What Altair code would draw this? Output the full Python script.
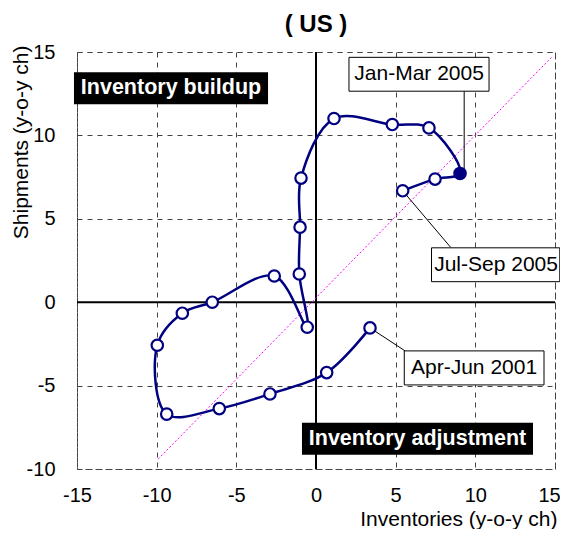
import altair as alt
import pandas as pd

# Inventory cycle path (quarterly), Apr-Jun 2001 .. Jul-Sep 2005
inventories = [3.39, 0.67, -2.89, -6.07, -9.37, -9.96, -8.39, -6.51, -2.62, -0.55,
               -1.05, -1.00, -0.94, 1.13, 4.79, 7.09, 9.04, 7.47, 5.44]
shipments = [-1.54, -4.22, -5.50, -6.38, -6.71, -2.58, -0.66, 0.00, 1.57, -1.50,
             1.69, 4.50, 7.44, 11.01, 10.65, 10.45, 7.72, 7.38, 6.68]
highlight_index = 16  # Jan-Mar 2005

# 45-degree reference line
diag_x = [-9.9, 14.8]
diag_y = [-9.4, 14.7]

# callout labels
callout_text = ["Jan-Mar 2005", "Jul-Sep 2005", "Apr-Jun 2001"]
callout_tx = [6.47, 11.3, 9.92]
callout_ty = [13.66, 2.23, -3.94]
callout_x1 = [2.07, 7.25, 5.54]
callout_x2 = [10.86, 15.3, 14.31]
callout_y1 = [14.68, 3.26, -2.92]
callout_y2 = [12.65, 1.23, -4.96]
leader_x1 = [9.30, 5.44, 3.39]
leader_y1 = [12.65, 6.68, -1.54]
leader_x2 = [9.30, 8.45, 5.59]
leader_y2 = [7.72, 3.29, -2.92]

# quadrant labels
quad_text = ["Inventory buildup", "Inventory adjustment"]
quad_tx = [-9.1, 6.37]
quad_ty = [12.82, -8.19]
quad_x1 = [-15.19, -0.88]
quad_x2 = [-3.01, 13.62]
quad_y1 = [13.78, -7.23]
quad_y2 = [11.87, -9.15]

FONT = "Liberation Sans"
NAVY = "#000080"

xs = alt.Scale(domain=[-15, 15], nice=False, zero=False)
ys = alt.Scale(domain=[-10, 15], nice=False, zero=False)
xaxis = alt.Axis(values=[-15, -10, -5, 0, 5, 10, 15], title="Inventories (y-o-y ch)",
                 ticks=False, tickSize=0, domain=False, labelPadding=32,
                 labelFlush=False, labelExpr="'' + datum.value",
                 labelOffset={"expr": "datum.value == 15 ? -6 : 0"},
                 labelBaseline="alphabetic", titleX=480, titleY=56,
                 titleAlign="right", titleBaseline="alphabetic")
yaxis = alt.Axis(values=[-10, -5, 0, 5, 10, 15], title="Shipments (y-o-y ch)",
                 ticks=False, tickSize=0, domain=False, labelPadding=22,
                 labelFlush=False, labelExpr="'' + datum.value",
                 titleX=-50, titleY=-7, titleAlign="right", titleAngle=270,
                 titleBaseline="alphabetic")

def X(f="x"):
    return alt.X(f + ":Q", scale=xs, axis=xaxis)

def Y(f="y"):
    return alt.Y(f + ":Q", scale=ys, axis=yaxis)

pts = pd.DataFrame({"x": inventories, "y": shipments, "i": list(range(len(inventories)))})
pts["hl"] = ["yes" if i == highlight_index else "no" for i in range(len(inventories))]

zero_v = pd.DataFrame({"x": [0, 0], "y": [-10, 15]})
zero_h = pd.DataFrame({"x": [-15, 15], "y": [0, 0]})
diag = pd.DataFrame({"x": diag_x, "y": diag_y})
callouts = pd.DataFrame({"t": callout_text, "x": callout_tx, "y": callout_ty,
                         "bx": callout_x1, "bx2": callout_x2,
                         "by": callout_y1, "by2": callout_y2})
leaders = pd.DataFrame({"x": leader_x1, "y": leader_y1, "x2": leader_x2, "y2": leader_y2})
quads = pd.DataFrame({"t": quad_text, "x": quad_tx, "y": quad_ty,
                      "bx": quad_x1, "bx2": quad_x2, "by": quad_y1, "by2": quad_y2})

zv = alt.Chart(zero_v).mark_line(color="black", strokeWidth=2).encode(x=X(), y=Y())
zh = alt.Chart(zero_h).mark_line(color="black", strokeWidth=2).encode(x=X(), y=Y())
dg = alt.Chart(diag).mark_line(color="#ff00ff", strokeWidth=1, strokeDash=[2, 2]).encode(x=X(), y=Y())
ld = alt.Chart(leaders).mark_rule(color="black", strokeWidth=1).encode(
    x=X(), y=Y(), x2="x2:Q", y2="y2:Q")
curve = alt.Chart(pts).mark_line(color=NAVY, strokeWidth=2.5, interpolate="catmull-rom").encode(
    x=X(), y=Y(), order="i:Q")
dots = alt.Chart(pts).mark_point(shape="circle", size=130, strokeWidth=2.2, stroke=NAVY, opacity=1, filled=True).encode(
    x=X(), y=Y(),
    fill=alt.Fill("hl:N", scale=alt.Scale(domain=["no", "yes"], range=["white", NAVY]), legend=None))
cbox = alt.Chart(callouts).mark_rect(fill="white", stroke="black", strokeWidth=1).encode(
    x=X("bx"), x2="bx2:Q", y=Y("by"), y2="by2:Q")
ctxt = alt.Chart(callouts).mark_text(font=FONT, fontSize=21, color="black").encode(
    x=X(), y=Y(), text="t:N")
qbox = alt.Chart(quads).mark_rect(fill="black").encode(
    x=X("bx"), x2="bx2:Q", y=Y("by"), y2="by2:Q")
qtxt = alt.Chart(quads).mark_text(font=FONT, fontSize=21.5, fontWeight="bold", color="white").encode(
    x=X(), y=Y(), text="t:N")

chart = alt.layer(zv, zh, dg, ld, curve, dots, cbox, ctxt, qbox, qtxt).properties(
    width=478, height=417,
    autosize=alt.AutoSizeParams(type="none"),
    padding={"left": 69, "top": 44, "right": 5, "bottom": 60},
    title=alt.TitleParams("( US )", font=FONT, fontSize=24, fontWeight="bold",
                          color="black", offset=5),
).configure_view(
    stroke="#444444", strokeDash=[5, 5], strokeWidth=1
).configure_axis(
    grid=True, gridColor="#444444", gridDash=[5, 5], gridWidth=1, gridOpacity=1,
    labelFont=FONT, labelFontSize=20, labelColor="black",
    titleFont=FONT, titleFontSize=21, titleFontWeight="normal", titleColor="black"
)

chart.save("out.html", embed_options={"renderer": "svg", "actions": False})
